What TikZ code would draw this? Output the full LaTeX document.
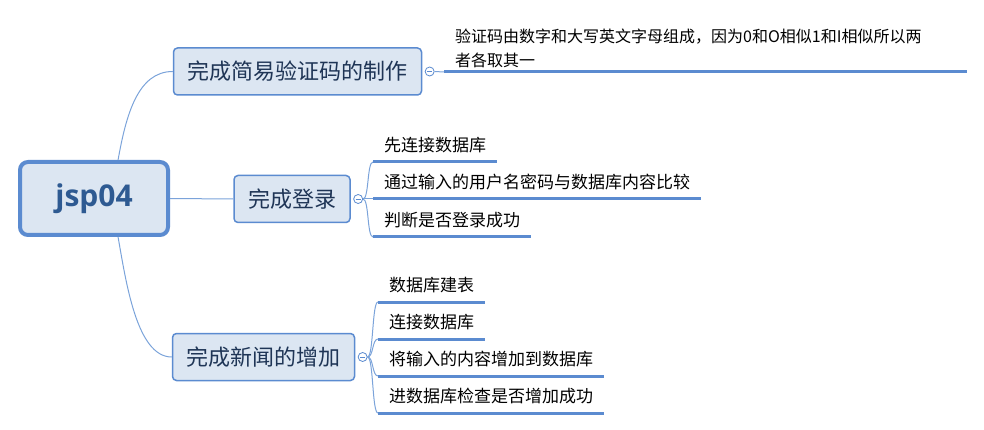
\documentclass[tikz,border=0pt]{standalone}
\usepackage{fontspec}
\setmainfont{Noto Sans CJK SC}
\newfontfamily\rootfont{Open Sans}
\usetikzlibrary{positioning}
\definecolor{mapblue}{HTML}{5B8BD0}
\definecolor{mapfill}{HTML}{DCE6F2}
\definecolor{maptext}{HTML}{1F3556}
\definecolor{roottext}{HTML}{2E5A92}
\definecolor{linkblue}{HTML}{7BA3DA}

\begin{document}
\begin{tikzpicture}[x=1pt, y=-1pt, node distance=2.5pt,
    root/.style={rectangle, rounded corners=8pt, draw=mapblue, line width=4pt, fill=mapfill, minimum width=148pt, minimum height=73pt, font=\rootfont\fontsize{30}{36}\selectfont\bfseries, text=roottext},
    topic/.style={rectangle, rounded corners=4pt, draw=mapblue, line width=1.5pt, fill=mapfill, inner xsep=14pt, minimum height=47pt, font=\fontsize{22}{26}\selectfont, text=maptext},
    toggle/.style={circle, draw=mapblue, fill=white, line width=0.8pt, minimum size=9pt, inner sep=0pt,
        path picture={\draw[mapblue, line width=0.8pt] ([xshift=-2.5pt]path picture bounding box.center) -- ([xshift=2.5pt]path picture bounding box.center);}},
    note/.style={anchor=south west, inner xsep=11pt, text=black},
    leaf/.style={note, inner ysep=7pt, text height=12pt, text depth=3pt, font=\fontsize{17}{24}\selectfont},
    underline/.style={mapblue, line width=3pt},
    link/.style={linkblue, line width=1pt}]

\useasboundingbox (0,0) rectangle (984,430);

% main topic and branches
\node[root] (root) at (94,198.5) {jsp04};
\node[topic] (b1) at (297.5,71.5) {完成简易验证码的制作};
\node[topic] (b2) at (292,199) {完成登录};
\node[topic] (b3) at (263.5,357) {完成新闻的增加};

\node[toggle, right=of b1] (t1) {};
\node[toggle, right=of b2] (t2) {};
\node[toggle, right=of b3] (t3) {};

% leaves
\node[note, inner ysep=4pt, text width=501pt, align=left, font=\fontsize{16}{24}\selectfont] (l11) at (444,72) {验证码由数字和大写英文字母组成，因为0和O相似1和I相似所以两\\者各取其一};
\node[leaf] (l21) at (373,162) {先连接数据库};
\node[leaf] (l22) at (373,199) {通过输入的用户名密码与数据库内容比较};
\node[leaf] (l23) at (373,237) {判断是否登录成功};
\node[leaf] (l31) at (378,302) {数据库建表};
\node[leaf] (l32) at (378,339) {连接数据库};
\node[leaf] (l33) at (378,376) {将输入的内容增加到数据库};
\node[leaf] (l34) at (378,413) {进数据库检查是否增加成功};

% connectors
\draw[link] (root.58) .. controls +(8,-45) and +(-35,0) .. (b1.west);
\draw[link] (root.east) -- (b2.west);
\draw[link] (root.-58) .. controls +(8,45) and +(-35,0) .. (b3.west);

\draw[link] (t1.east) -- (l11.south west);
\draw[link] (t2.east) .. controls +(6,0) and +(-6,0) .. (l21.south west);
\draw[link] (t2.east) -- (l22.south west);
\draw[link] (t2.east) .. controls +(6,0) and +(-6,0) .. (l23.south west);
\draw[link] (t3.east) .. controls +(6,0) and +(-6,0) .. (l31.south west);
\draw[link] (t3.east) .. controls +(6,0) and +(-6,0) .. (l32.south west);
\draw[link] (t3.east) .. controls +(6,0) and +(-6,0) .. (l33.south west);
\draw[link] (t3.east) .. controls +(6,0) and +(-6,0) .. (l34.south west);

% underlines
\draw[underline] (l11.south west) -- (l11.south east);
\draw[underline] (l21.south west) -- (l21.south east);
\draw[underline] (l22.south west) -- (l22.south east);
\draw[underline] (l23.south west) -- (l23.south east);
\draw[underline] (l31.south west) -- (l31.south east);
\draw[underline] (l32.south west) -- (l32.south east);
\draw[underline] (l33.south west) -- (l33.south east);
\draw[underline] (l34.south west) -- (l34.south east);

\end{tikzpicture}
\end{document}
